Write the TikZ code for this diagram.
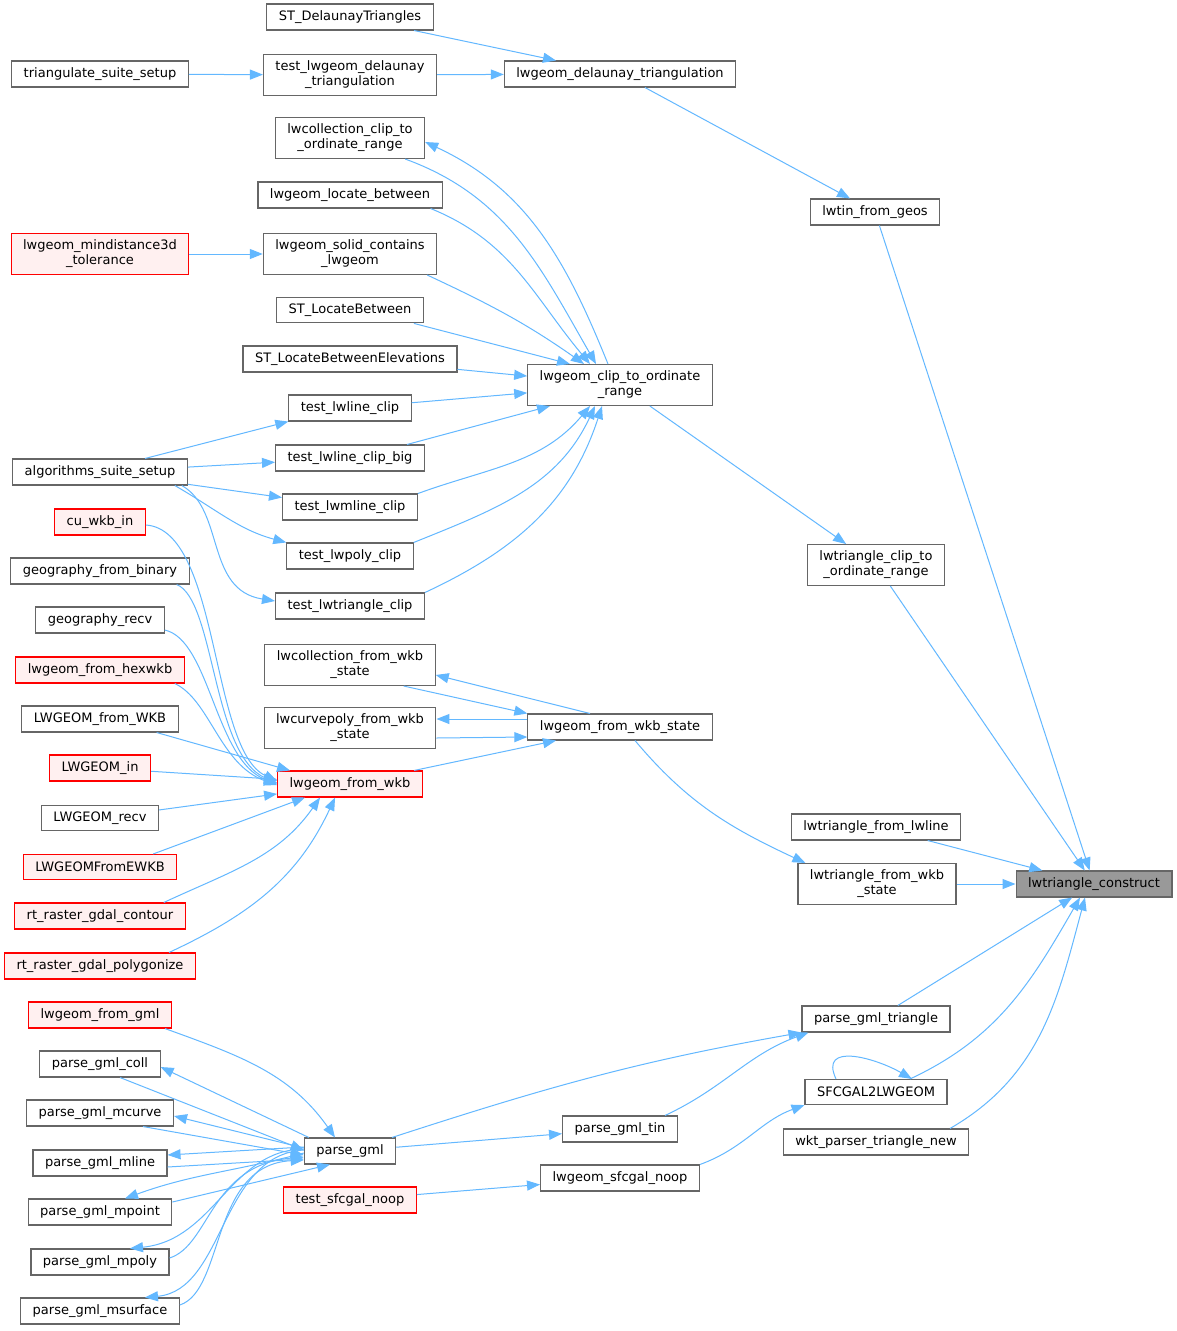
\documentclass[tikz,border=0pt]{standalone}
\usepackage{fontspec}
\setmainfont{DejaVu Sans}
\usetikzlibrary{arrows.meta}
\definecolor{edgeblue}{HTML}{63B8FF}
\definecolor{boxgray}{HTML}{666666}
\definecolor{rootgray}{HTML}{999999}
\definecolor{redfill}{HTML}{FFF0F0}
\definecolor{redline}{HTML}{FF0000}

\begin{document}
\begin{tikzpicture}[x=1pt,y=1pt]
	\tikzstyle{fn} = [draw=boxgray, fill=white, line width=1.1pt, inner xsep=12pt, inner ysep=6.5pt, minimum height=25pt, align=center, font=\fontsize{13}{15}\selectfont];
	\tikzstyle{fnred} = [fn, draw=redline, fill=redfill];
	\tikzstyle{fnroot} = [fn, fill=rootgray];
	\tikzstyle{call} = [draw=edgeblue, line width=1pt, -{Triangle[length=13pt,width=10pt]}];
	\useasboundingbox[fill=white] (0,0) rectangle (1177,-1331);
	
	\node[fn] (sdt) at (350,-17) {ST\_DelaunayTriangles};
	\node[fn] (tss) at (100,-74) {triangulate\_suite\_setup};
	\node[fn] (tldt) at (350,-75) {test\_lwgeom\_delaunay\\\_triangulation};
	\node[fn] (ldt) at (620,-74) {lwgeom\_delaunay\_triangulation};
	\node[fn] (lcc) at (350,-138) {lwcollection\_clip\_to\\\_ordinate\_range};
	\node[fn] (llb) at (350,-195) {lwgeom\_locate\_between};
	\node[fnred] (lmt) at (100,-254) {lwgeom\_mindistance3d\\\_tolerance};
	\node[fn] (lscl) at (350,-254) {lwgeom\_solid\_contains\\\_lwgeom};
	\node[fn] (ltfg) at (875,-212) {lwtin\_from\_geos};
	\node[fn] (slb) at (350,-310) {ST\_LocateBetween};
	\node[fn] (slbe) at (350,-359) {ST\_LocateBetweenElevations};
	\node[fn] (lgc) at (620,-385) {lwgeom\_clip\_to\_ordinate\\\_range};
	\node[fn] (tlc) at (350,-408) {test\_lwline\_clip};
	\node[fn] (ass) at (100,-472) {algorithms\_suite\_setup};
	\node[fn] (tlcb) at (350,-458) {test\_lwline\_clip\_big};
	\node[fn] (tlmc) at (350,-507) {test\_lwmline\_clip};
	\node[fnred] (cwi) at (100,-522) {cu\_wkb\_in};
	\node[fn] (tlpc) at (350,-556) {test\_lwpoly\_clip};
	\node[fn] (ltcr) at (876,-565) {lwtriangle\_clip\_to\\\_ordinate\_range};
	\node[fn] (gfb) at (100,-571) {geography\_from\_binary};
	\node[fn] (tltc) at (350,-606) {test\_lwtriangle\_clip};
	\node[fn] (gr) at (100,-620) {geography\_recv};
	\node[fn] (lcfw) at (350,-665) {lwcollection\_from\_wkb\\\_state};
	\node[fnred] (lfh) at (100,-670) {lwgeom\_from\_hexwkb};
	\node[fn] (LfW) at (100,-719) {LWGEOM\_from\_WKB};
	\node[fn] (lcpfw) at (350,-728) {lwcurvepoly\_from\_wkb\\\_state};
	\node[fn] (lfws) at (620,-727) {lwgeom\_from\_wkb\_state};
	\node[fnred] (Li) at (100,-768) {LWGEOM\_in};
	\node[fnred] (lfw) at (350,-784) {lwgeom\_from\_wkb};
	\node[fn] (Lr) at (100,-818) {LWGEOM\_recv};
	\node[fn] (ltfl) at (876,-827) {lwtriangle\_from\_lwline};
	\node[fnred] (LFE) at (100,-867) {LWGEOMFromEWKB};
	\node[fnroot] (ltc) at (1094,-884) {lwtriangle\_construct};
	\node[fn] (ltfw) at (877,-884) {lwtriangle\_from\_wkb\\\_state};
	\node[fnred] (rgc) at (100,-916) {rt\_raster\_gdal\_contour};
	\node[fnred] (rgp) at (100,-966) {rt\_raster\_gdal\_polygonize};
	\node[fnred] (lfg) at (100,-1015) {lwgeom\_from\_gml};
	\node[fn] (pgt) at (876,-1019) {parse\_gml\_triangle};
	\node[fn] (pgc) at (100,-1064) {parse\_gml\_coll};
	\node[fn] (s2l) at (876,-1092) {SFCGAL2LWGEOM};
	\node[fn] (pgmc) at (100,-1113) {parse\_gml\_mcurve};
	\node[fn] (pgtin) at (620,-1129) {parse\_gml\_tin};
	\node[fn] (wptn) at (876,-1142) {wkt\_parser\_triangle\_new};
	\node[fn] (pg) at (350,-1151) {parse\_gml};
	\node[fn] (pgml) at (100,-1163) {parse\_gml\_mline};
	\node[fn] (lsn) at (620,-1178) {lwgeom\_sfcgal\_noop};
	\node[fnred] (tsn) at (350,-1200) {test\_sfcgal\_noop};
	\node[fn] (pgmp) at (100,-1212) {parse\_gml\_mpoint};
	\node[fn] (pgmpy) at (100,-1262) {parse\_gml\_mpoly};
	\node[fn] (pgms) at (100,-1311) {parse\_gml\_msurface};
	
	\draw[call] (sdt) -- (ldt);
	\draw[call] (tss) -- (tldt);
	\draw[call] (tldt) -- (ldt);
	\draw[call] (ldt) -- (ltfg);
	\draw[call] (ltfg) -- (ltc);
	
	\draw[call] ([xshift=-20pt]lcc.south east) to[out=-20,in=120] ([xshift=-24pt]lgc.north);
	\draw[call] ([xshift=-12pt]lgc.north) to[out=112,in=-25] ([yshift=-4pt]lcc.east);
	\draw[call] ([xshift=-12pt]llb.south east) to[out=-22,in=130] ([xshift=-30pt]lgc.north);
	\draw[call] (lmt) -- (lscl);
	\draw[call] ([xshift=-10pt]lscl.south east) to[out=-25,in=145] ([xshift=-36pt]lgc.north);
	\draw[call] ([xshift=-10pt]slb.south east) -- ([xshift=-50pt]lgc.north);
	\draw[call] (slbe) -- (lgc);
	\draw[call] (tlc) -- (lgc);
	\draw[call] ([xshift=-18pt]tlcb.north east) -- ([xshift=-70pt]lgc.south);
	\draw[call] (tlmc.north east) to[out=20,in=-130] ([xshift=-30pt]lgc.south);
	\draw[call] (tlpc.north east) to[out=22,in=-115] ([xshift=-25pt]lgc.south);
	\draw[call] (tltc.north east) to[out=25,in=-108] ([xshift=-18pt]lgc.south);
	
	\draw[call] ([xshift=45pt]ass.north) -- (tlc.south west);
	\draw[call] (ass) -- (tlcb);
	\draw[call] (ass) -- (tlmc);
	\draw[call] ([xshift=-13pt]ass.south east) to[out=-30,in=165] (tlpc.north west);
	\draw[call] ([xshift=-6pt]ass.south east) .. controls (225,-510) and (205,-590) .. ([yshift=5pt]tltc.west);
	\draw[call] (lgc) -- (ltcr);
	\draw[call] (ltcr) -- (ltc);
	
	\draw[call] ([yshift=-3pt]cwi.east) .. controls (220,-530) and (210,-750) .. ([yshift=3pt]lfw.west);
	\draw[call] ([xshift=-13pt]gfb.south east) .. controls (215,-600) and (212,-755) .. ([yshift=1pt]lfw.west);
	\draw[call] ([yshift=-10pt]gr.east) .. controls (210,-640) and (215,-760) .. (lfw.west);
	\draw[call] ([xshift=-10pt]lfh.south east) .. controls (210,-700) and (220,-765) .. ([yshift=-1pt]lfw.west);
	\draw[call] ([xshift=-22pt]LfW.south east) -- ([xshift=13pt]lfw.north west);
	\draw[call] (Li) -- (lfw);
	\draw[call] (Lr) -- (lfw);
	\draw[call] ([xshift=-24pt]LFE.north east) -- ([xshift=28pt]lfw.south west);
	\draw[call] ([xshift=-22pt]rgc.north east) to[out=25,in=-125] ([xshift=43pt]lfw.south west);
	\draw[call] ([xshift=-27pt]rgp.north east) to[out=25,in=-115] ([xshift=58pt]lfw.south west);
	
	\draw[call] (lfw) -- (lfws);
	\draw[call] ([xshift=-32pt]lcfw.south east) -- (lfws.north west);
	\draw[call] ([xshift=-30pt]lfws.north) -- ([yshift=-10pt]lcfw.east);
	\draw[call] ([yshift=-10pt]lcpfw.east) -- ([yshift=-10pt]lfws.west);
	\draw[call] ([yshift=8pt]lfws.west) -- ([yshift=9pt]lcpfw.east);
	\draw[call] ([xshift=15pt]lfws.south) to[out=-50,in=155] ([xshift=8pt]ltfw.north west);
	
	\draw[call] (ltfl) -- (ltc);
	\draw[call] (ltfw) -- (ltc);
	\draw[call] (pgt) -- (ltc);
	\draw[call] ([xshift=34pt]s2l.north) to[out=25,in=-120] ([xshift=-14pt]ltc.south);
	\draw[call] ([xshift=-40pt]s2l.north) to[out=115,in=150,looseness=1.4] ([xshift=36pt]s2l.north);
	\draw[call] ([xshift=74pt]wptn.north) to[out=30,in=-105] ([xshift=-9pt]ltc.south);
	
	\draw[call] ([xshift=-7pt]lfg.south east) to[out=-20,in=125] ([xshift=-15pt]pg.north);
	\draw[call] ([xshift=20pt]pgc.south) -- ([yshift=1pt]pg.west);
	\draw[call] ([xshift=5pt]pg.north west) -- ([yshift=-3pt]pgc.east);
	\draw[call] ([xshift=43pt]pgmc.south) -- ([yshift=-4pt]pg.west);
	\draw[call] ([yshift=3pt]pg.west) -- ([yshift=-3pt]pgmc.east);
	\draw[call] ([yshift=4pt]pg.west) -- ([yshift=8pt]pgml.east);
	\draw[call] ([yshift=-4pt]pgml.east) -- ([yshift=-8pt]pg.west);
	\draw[call] ([yshift=-2pt]pg.west) to[out=195,in=20] ([xshift=25pt]pgmp.north);
	\draw[call] ([yshift=10pt]pgmp.east) -- ([xshift=-20pt]pg.south);
	\draw[call] ([yshift=2pt]pg.west) .. controls (230,-1150) and (215,-1240) .. ([xshift=30pt]pgmpy.north);
	\draw[call] ([yshift=4pt]pgmpy.east) .. controls (210,-1245) and (210,-1165) .. ([yshift=-6pt]pg.west);
	\draw[call] ([yshift=1pt]pg.west) .. controls (220,-1155) and (225,-1290) .. ([xshift=45pt]pgms.north);
	\draw[call] ([yshift=6pt]pgms.east) .. controls (225,-1290) and (210,-1165) .. ([yshift=-9pt]pg.west);
	
	\draw[call] ([xshift=42pt]pg.north) to[out=18,in=-170] (pgt.south west);
	\draw[call] ([xshift=45pt]pgtin.north) to[out=25,in=-160] ([xshift=7pt]pgt.south west);
	\draw[call] (pg) -- (pgtin);
	\draw[call] (lsn.north east) to[out=20,in=-160] (s2l.south west);
	\draw[call] (tsn) -- (lsn);
\end{tikzpicture}
\end{document}
